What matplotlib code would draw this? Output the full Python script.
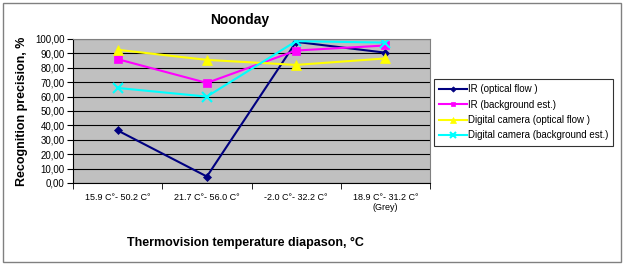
import matplotlib
matplotlib.use("Agg")
import matplotlib.pyplot as plt
from matplotlib.patches import Rectangle

categories = ["15.9 C°- 50.2 C°", "21.7 C°- 56.0 C°", "-2.0 C°- 32.2 C°", "18.9 C°- 31.2 C°\n(Grey)"]
ir_optical = [36.5, 4.5, 98.0, 90.5]
ir_background = [86.0, 69.5, 92.0, 95.5]
dc_optical = [92.5, 85.5, 82.0, 86.5]
dc_background = [66.0, 60.0, 98.5, 97.5]
series_labels = ["IR (optical flow )", "IR (background est.)",
                 "Digital camera (optical flow )", "Digital camera (background est.)"]
y_ticks = [0, 10, 20, 30, 40, 50, 60, 70, 80, 90, 100]

plt.rcParams['font.family'] = ['Liberation Sans', 'DejaVu Sans']

W, H = 623, 264
fig = plt.figure(figsize=(W / 100, H / 100), dpi=100)
fig.patch.set_facecolor('white')
fig.add_artist(Rectangle((3 / W, 2 / H), 618 / W, 259 / H, transform=fig.transFigure,
                         fill=False, edgecolor='#808080', lw=1.0))

ax = fig.add_axes([73 / W, 1 - 183 / H, (430 - 73) / W, (183 - 39) / H])
ax.set_facecolor('#C0C0C0')
x = list(range(len(categories)))

styles = [
    (ir_optical, '#000080', 'D', 4.5),
    (ir_background, '#FF00FF', 's', 6),
    (dc_optical, '#FFFF00', '^', 7),
    (dc_background, '#00FFFF', 'x', 7),
]
for (vals, c, m, ms), lab in zip(styles, series_labels):
    ax.plot(x, vals, color=c, marker=m, markersize=ms, lw=1.5, label=lab,
            markeredgewidth=1.5 if m == 'x' else 0.5, markeredgecolor=c)

ax.set_xlim(-0.5, len(categories) - 0.5)
ax.set_ylim(0, 100)
ax.set_yticks(y_ticks)
ax.set_yticklabels([f"{v:.2f}".replace('.', ',') for v in y_ticks], fontsize=7)
ax.yaxis.grid(True, color='black', lw=0.8)
ax.set_axisbelow(True)
ax.set_xticks(x)
ax.set_xticklabels(categories, fontsize=6.5)
ax.tick_params(axis='x', length=0, pad=7)
ax.set_xticks([i + 0.5 for i in range(-1, len(categories))], minor=True)
ax.tick_params(axis='x', which='minor', length=4, color='black')
ax.tick_params(axis='y', length=4, pad=2)
for s in ['top', 'right']:
    ax.spines[s].set_color('#808080')
ax.spines['left'].set_color('black')
ax.spines['bottom'].set_color('black')

fig.text(240 / W, 1 - 20 / H, "Noonday", fontsize=10, fontweight='bold', ha='center', va='center')
fig.text(22 / W, 1 - 111 / H, "Recognition precision, %", fontsize=9, fontweight='bold',
         rotation=90, ha='center', va='center')
fig.text(245 / W, 1 - 243 / H, "Thermovision temperature diapason, °C", fontsize=9,
         fontweight='bold', ha='center', va='center')

leg = fig.legend(loc='upper left', bbox_to_anchor=(434 / W, 1 - 79 / H), fontsize=7,
                 frameon=True, fancybox=False, edgecolor='black', handlelength=2.8,
                 borderpad=0.55, labelspacing=0.55, handletextpad=0.1, markerscale=0.6,
                 borderaxespad=0)
leg.get_frame().set_linewidth(0.8)

fig.savefig("out.png", dpi=100)
